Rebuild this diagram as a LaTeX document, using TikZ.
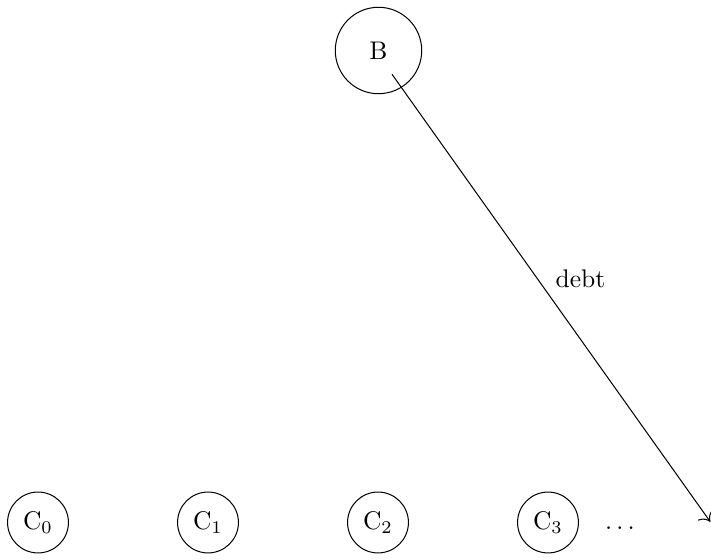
\documentclass[tikz,border=0pt]{standalone}
\usetikzlibrary{shapes.geometric,arrows.meta}
\begin{document}
\begin{tikzpicture}[x=0.39216pt, y=-0.39216pt,
  bnode/.style={draw, circle, inner sep=0pt, minimum size=33.9pt},
  cnode/.style={draw, circle, minimum size=23.2pt},
  lbl/.style={inner sep=0pt},
  conn/.style={-{To[scale=1.4]}}]
\useasboundingbox (0,0) rectangle (711,560);
\node[bnode] (B) at (378.5,50.5) {B};
\node[cnode] (C0) at (38,522.5) {C$_0$};
\node[cnode] (C1) at (208,522.5) {C$_1$};
\node[cnode] (C2) at (378,522.5) {C$_2$};
\node[cnode] (C3) at (548,522.5) {C$_3$};
\node[lbl, anchor=base] (dots) at (620,530) {$\ldots$};
\coordinate (s) at (392,74.3);
\coordinate (e) at (710.3,521.8);
\draw[conn] (s) -- (e);
\node[lbl, anchor=base west] (debt) at (555.2,288) {debt};
\end{tikzpicture}
\end{document}
